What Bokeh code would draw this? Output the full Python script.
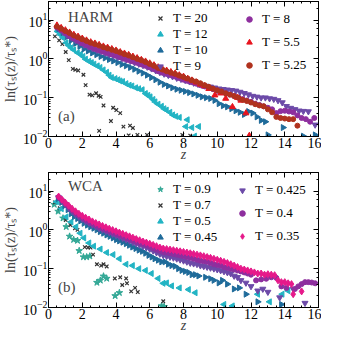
import math
from bokeh.plotting import figure
from bokeh.models import (Range1d, LogAxis, LinearAxis, Legend, LegendItem, Label,
                          LogTicker, SingleIntervalTicker, CustomJSTickFormatter)
from bokeh.layouts import column
from bokeh.embed import file_html
from bokeh.resources import INLINE

FONT = "Liberation Serif"

# ---------------- Panel (a): HARM ----------------
z_a20 = [0.38, 0.63, 0.82, 1.02, 1.2, 1.44, 1.59, 1.76, 2.07, 2.2, 2.43, 2.59, 2.82, 2.97, 3.09, 3.26,
         3.0, 3.7, 3.83, 4.02, 4.25, 4.44, 4.75, 4.83, 5.0, 5.27, 5.84, 7.93, 8.4]
v_a20 = [3.8, 3.0, 2.4, 1.5, 0.93, 0.55, 0.52, 0.5, 0.39, 0.21, 0.12, 0.115, 0.13, 0.112, 0.105, 0.063,
         0.014, 0.025, 0.055, 0.048, 0.04, 0.018, 0.0107, 0.019, 0.0166, 0.011, 0.011, 0.011, 0.0105]

z_a12 = [0.53, 0.7, 0.86, 1.05, 1.2, 1.34, 1.5, 1.72, 1.9, 2.05, 2.2, 2.4, 2.55, 2.7, 2.9, 3.06, 3.25,
         3.45, 3.6, 3.74, 3.95, 4.12, 4.25, 4.4, 4.6, 4.79, 4.95, 5.17, 5.35, 5.56, 5.75, 5.9, 6.03, 6.2,
         6.32, 6.5, 6.7, 6.85, 6.99, 7.2, 7.37, 7.55, 7.76, 8.14, 8.23, 8.5, 8.66, 8.9]
v_a12 = [5.1, 4.2, 3.5, 2.6, 2.2, 1.93, 1.7, 1.44, 1.31, 1.15, 0.98, 0.87, 0.8, 0.73, 0.66, 0.6, 0.52,
         0.45, 0.38, 0.33, 0.31, 0.29, 0.27, 0.26, 0.23, 0.21, 0.2, 0.18, 0.17, 0.16, 0.128, 0.115, 0.105,
         0.09, 0.078, 0.068, 0.06, 0.052, 0.048, 0.042, 0.036, 0.033, 0.031, 0.018, 0.027, 0.017, 0.0102, 0.018]

z_a10 = [0.6, 0.85, 1.1, 1.35, 1.6, 1.85, 2.1, 2.35, 2.6, 2.85, 3.1, 3.35, 3.6, 3.85, 4.1, 4.35, 4.6,
         4.85, 5.1, 5.35, 5.6, 5.85, 6.1, 6.35, 6.6, 6.85, 7.1, 7.35, 7.6, 7.85, 8.1, 8.35, 8.6, 8.85,
         9.1, 9.35, 9.6, 9.85, 10.1, 10.35, 10.6, 10.85, 11.1, 11.35, 11.6, 11.85, 12.1, 12.35, 12.6,
         12.85, 13.0, 13.9, 15.1, 15.8]
v_a10 = [6.0, 4.7, 3.7, 3.0, 2.5, 2.1, 1.8, 1.6, 1.42, 1.28, 1.15, 1.05, 0.96, 0.88, 0.8, 0.72, 0.66,
         0.6, 0.54, 0.48, 0.43, 0.38, 0.33, 0.29, 0.25, 0.22, 0.2, 0.18, 0.165, 0.155, 0.145, 0.135,
         0.125, 0.115, 0.105, 0.1, 0.095, 0.085, 0.07, 0.062, 0.058, 0.052, 0.046, 0.042, 0.037, 0.044,
         0.04, 0.032, 0.026, 0.024, 0.011, 0.017, 0.0102, 0.011]

z_a9 = [0.6, 0.85, 1.1, 1.35, 1.6, 1.85, 2.1, 2.35, 2.6, 2.85, 3.1, 3.35, 3.6, 3.85, 4.1, 4.35, 4.6,
        4.85, 5.1, 5.35, 5.6, 5.85, 6.1, 6.35, 6.6, 6.85, 7.1, 7.35, 7.6, 7.85, 8.1, 8.35, 8.6, 8.85,
        9.1, 9.35, 9.6, 9.85, 10.1, 10.35, 10.6, 10.85, 11.1, 11.35, 11.6, 11.85, 12.1, 12.35, 12.6,
        12.85, 13.1, 13.35, 13.6, 13.85, 14.1, 14.35, 14.6, 14.85, 15.1, 15.4, 15.8]
v_a9 = [6.2, 5.0, 4.1, 3.5, 3.0, 2.6, 2.3, 2.05, 1.85, 1.68, 1.55, 1.42, 1.3, 1.2, 1.1, 1.02, 0.95,
        0.88, 0.8, 0.74, 0.68, 0.62, 0.56, 0.5, 0.45, 0.41, 0.38, 0.35, 0.32, 0.3, 0.28, 0.26, 0.24,
        0.225, 0.21, 0.2, 0.19, 0.18, 0.17, 0.165, 0.16, 0.155, 0.15, 0.14, 0.13, 0.12, 0.11, 0.105,
        0.1, 0.1, 0.095, 0.092, 0.085, 0.075, 0.06, 0.054, 0.05, 0.046, 0.045, 0.044, 0.02]

z_a8 = [0.5, 0.75, 1.0, 1.25, 1.5, 1.75, 2.0, 2.25, 2.5, 2.75, 3.0, 3.25, 3.5, 3.75, 4.0, 4.25, 4.5,
        4.75, 5.0, 5.25, 5.5, 5.75, 6.0, 6.25, 6.5, 6.75, 7.0, 7.25, 7.5, 7.75, 8.0, 8.25, 8.5, 8.75,
        9.0, 9.25, 9.5, 9.75, 10.0, 10.25, 10.5, 10.75, 11.0, 11.25, 11.5, 11.75, 12.0, 12.25, 12.5,
        12.75, 13.0, 13.25, 13.5, 13.75, 14.0, 14.25, 14.5, 14.75, 15.0, 15.25, 15.5, 15.75]
v_a8 = [6.4, 5.4, 4.5, 3.8, 3.3, 2.9, 2.5, 2.25, 2.0, 1.8, 1.65, 1.52, 1.4, 1.3, 1.2, 1.1, 1.0,
        0.93, 0.86, 0.79, 0.72, 0.66, 0.6, 0.54, 0.48, 0.44, 0.41, 0.38, 0.35, 0.32, 0.29, 0.27, 0.25,
        0.23, 0.21, 0.195, 0.18, 0.165, 0.15, 0.14, 0.13, 0.12, 0.11, 0.1, 0.092, 0.085, 0.078, 0.07,
        0.065, 0.06, 0.055, 0.05, 0.04, 0.045, 0.046, 0.044, 0.042, 0.035, 0.03, 0.028, 0.024, 0.03]

z_a55 = [0.5, 0.75, 1.0, 1.25, 1.5, 1.75, 2.0, 2.25, 2.5, 2.75, 3.0, 3.25, 3.5, 3.75, 4.0, 4.25, 4.5,
         4.75, 5.0, 5.25, 5.5, 5.75, 6.0, 6.25, 6.5, 6.75, 7.0, 7.25, 7.5, 7.75, 8.0, 8.25, 8.5, 8.75,
         9.0, 9.25, 9.5, 9.86, 10.2, 10.5, 10.9, 11.2, 11.4, 11.7, 11.9]
v_a55 = [7.3, 6.3, 5.5, 4.8, 4.2, 3.75, 3.35, 3.0, 2.7, 2.5, 2.3, 2.1, 1.95, 1.8, 1.65, 1.5, 1.38,
         1.27, 1.15, 1.05, 0.95, 0.86, 0.77, 0.69, 0.61, 0.55, 0.5, 0.46, 0.42, 0.38, 0.35, 0.31, 0.28,
         0.25, 0.22, 0.2, 0.17, 0.116, 0.13, 0.095, 0.058, 0.1, 0.085, 0.04, 0.0105]

z_a525 = [0.5, 0.75, 1.0, 1.25, 1.5, 1.75, 2.0, 2.25, 2.5, 2.75, 3.0, 3.25, 3.5, 3.75, 4.0, 4.25, 4.5,
          4.75, 5.0, 5.25, 5.5, 5.75, 6.0, 6.25, 6.5, 6.75, 7.0, 7.25, 7.5, 7.75, 8.0, 8.25, 8.5, 8.75,
          9.0, 9.25, 9.5, 9.75, 10.0, 10.25, 10.5, 10.75, 11.0, 11.25, 11.5, 11.75, 12.0, 12.25, 12.5,
          12.75, 13.0, 13.25, 13.5, 13.75, 14.0, 14.25, 14.5, 14.75]
v_a525 = [6.8, 6.0, 5.2, 4.6, 4.0, 3.6, 3.2, 2.9, 2.6, 2.4, 2.2, 2.0, 1.85, 1.72, 1.6, 1.45, 1.32,
          1.22, 1.1, 1.0, 0.92, 0.83, 0.74, 0.66, 0.58, 0.53, 0.48, 0.44, 0.41, 0.37, 0.34, 0.31, 0.28,
          0.26, 0.235, 0.21, 0.19, 0.17, 0.155, 0.145, 0.13, 0.12, 0.11, 0.1, 0.088, 0.082, 0.075,
          0.068, 0.063, 0.06, 0.05, 0.042, 0.032, 0.03, 0.029, 0.028, 0.028, 0.019]

# ---------------- Panel (b): WCA ----------------
z_b09 = [0.34, 0.57, 0.86, 1.05, 1.25, 1.49, 1.72, 1.82, 2.07, 2.26, 2.45, 2.87, 3.07, 3.26, 3.45,
         3.95, 4.2, 6.7, 6.85]
v_b09 = [4.5, 3.0, 2.0, 1.2, 0.68, 0.56, 0.53, 0.29, 0.2, 0.2, 0.21, 0.044, 0.05, 0.064, 0.056,
         0.02, 0.024, 0.011, 0.0105]

z_b07 = [0.38, 0.67, 1.02, 1.3, 1.57, 1.72, 2.15, 2.34, 2.49, 2.64, 2.87, 3.12, 3.26, 3.45, 3.93,
         4.25, 4.37, 4.6, 4.65, 4.9, 5.13, 5.29, 6.8]
v_b07 = [5.1, 3.6, 1.78, 1.33, 1.1, 1.0, 0.36, 0.35, 0.35, 0.23, 0.13, 0.12, 0.13, 0.114, 0.056,
         0.06, 0.038, 0.056, 0.042, 0.026, 0.032, 0.025, 0.0145]

z_b05 = [0.48, 0.77, 1.05, 1.34, 1.63, 1.88, 2.1, 2.4, 2.68, 3.07, 3.45, 3.83, 4.2, 4.6, 4.98, 5.36,
         5.75, 6.1, 6.5, 6.8, 7.0, 7.3, 7.76, 8.3, 8.7, 10.4, 10.9, 12.4, 13.1, 13.85, 14.2]
v_b05 = [5.3, 3.5, 2.15, 1.6, 1.2, 0.82, 0.62, 0.46, 0.38, 0.32, 0.26, 0.23, 0.18, 0.13, 0.12, 0.1,
         0.09, 0.075, 0.056, 0.042, 0.043, 0.036, 0.032, 0.029, 0.024, 0.012, 0.011, 0.022, 0.014,
         0.022, 0.027]

z_b045 = [0.57, 0.77, 0.96, 1.15, 1.34, 1.53, 1.72, 1.9, 2.1, 2.3, 2.49, 2.68, 2.87, 3.06, 3.26,
          3.45, 3.64, 3.83, 4.02, 4.2, 4.4, 4.6, 4.79, 4.98, 5.17, 5.36, 5.56, 5.75, 5.94, 6.13, 6.3,
          6.5, 6.7, 6.9, 7.1, 7.3, 7.5, 7.7, 7.9, 8.1, 8.3, 8.5, 8.7, 8.9, 9.3, 9.6, 9.8, 10.1, 10.3,
          10.6, 11.0, 11.3, 11.7, 12.4, 13.8]
v_b045 = [6.4, 5.1, 4.2, 3.3, 2.6, 2.2, 1.95, 1.7, 1.47, 1.32, 1.2, 1.1, 1.0, 0.9, 0.82, 0.74, 0.68,
          0.62, 0.56, 0.52, 0.48, 0.44, 0.4, 0.36, 0.33, 0.3, 0.28, 0.25, 0.22, 0.2, 0.18, 0.165,
          0.15, 0.15, 0.13, 0.12, 0.115, 0.1, 0.09, 0.085, 0.08, 0.07, 0.07, 0.065, 0.06, 0.055, 0.05,
          0.043, 0.05, 0.04, 0.03, 0.032, 0.022, 0.014, 0.012]

z_b0425 = [0.6, 0.8, 1.0, 1.2, 1.4, 1.6, 1.8, 2.0, 2.2, 2.4, 2.6, 2.8, 3.0, 3.2, 3.4, 3.6, 3.8, 4.0,
           4.2, 4.4, 4.6, 4.8, 5.0, 5.2, 5.4, 5.6, 5.8, 6.0, 6.2, 6.4, 6.6, 6.8, 7.0, 7.2, 7.4, 7.6,
           7.8, 8.0, 8.2, 8.4, 8.6, 8.8, 9.0, 9.2, 9.4, 9.6, 9.8, 10.0, 10.2, 10.4, 10.6, 10.8, 11.0,
           11.2, 11.4, 11.7, 12.0, 12.4, 12.7, 13.0, 13.7, 14.5, 15.2]
v_b0425 = [6.8, 5.5, 4.5, 3.6, 3.0, 2.5, 2.15, 1.9, 1.65, 1.5, 1.35, 1.22, 1.1, 1.0, 0.92, 0.85,
           0.78, 0.72, 0.66, 0.61, 0.56, 0.52, 0.48, 0.44, 0.41, 0.38, 0.35, 0.32, 0.29, 0.26, 0.24,
           0.22, 0.21, 0.2, 0.19, 0.18, 0.17, 0.16, 0.15, 0.14, 0.135, 0.13, 0.12, 0.115, 0.11, 0.105,
           0.1, 0.095, 0.09, 0.085, 0.08, 0.075, 0.065, 0.06, 0.05, 0.043, 0.035, 0.027, 0.03, 0.025,
           0.018, 0.03, 0.013]

z_b04 = [0.6, 0.8, 1.0, 1.2, 1.4, 1.6, 1.8, 2.0, 2.2, 2.4, 2.6, 2.8, 3.0, 3.2, 3.4, 3.6, 3.8, 4.0,
         4.2, 4.4, 4.6, 4.8, 5.0, 5.2, 5.4, 5.6, 5.8, 6.0, 6.2, 6.4, 6.6, 6.8, 7.0, 7.2, 7.4, 7.6, 7.8,
         8.0, 8.2, 8.4, 8.6, 8.8, 9.0, 9.2, 9.4, 9.6, 9.8, 10.0, 10.2, 10.4, 10.6, 10.8, 11.0, 11.2,
         11.4, 11.6, 11.8, 12.0, 12.3, 12.6, 12.9, 13.2, 13.5, 13.8, 14.1, 14.6, 14.8, 15.0, 15.2,
         15.4, 15.6, 15.8]
v_b04 = [7.0, 5.8, 4.7, 3.9, 3.2, 2.7, 2.35, 2.05, 1.8, 1.6, 1.45, 1.3, 1.18, 1.08, 1.0, 0.92, 0.85,
         0.78, 0.72, 0.67, 0.62, 0.57, 0.53, 0.49, 0.46, 0.43, 0.4, 0.37, 0.34, 0.31, 0.29, 0.27, 0.26,
         0.25, 0.24, 0.23, 0.22, 0.21, 0.2, 0.19, 0.18, 0.17, 0.16, 0.155, 0.15, 0.14, 0.13, 0.125,
         0.12, 0.11, 0.105, 0.1, 0.095, 0.09, 0.085, 0.08, 0.075, 0.07, 0.05, 0.053, 0.055, 0.06,
         0.058, 0.035, 0.032, 0.03, 0.035, 0.04, 0.045, 0.045, 0.044, 0.042]

z_b035 = [0.6, 0.8, 1.0, 1.2, 1.4, 1.6, 1.8, 2.0, 2.2, 2.4, 2.6, 2.8, 3.0, 3.2, 3.4, 3.6, 3.8, 4.0,
          4.2, 4.4, 4.6, 4.8, 5.0, 5.2, 5.4, 5.6, 5.8, 6.0, 6.2, 6.4, 6.6, 6.8, 7.0, 7.2, 7.4, 7.6,
          7.8, 8.0, 8.2, 8.4, 8.6, 8.8, 9.0, 9.2, 9.4, 9.6, 9.8, 10.0, 10.2, 10.4, 10.6, 10.8, 11.0,
          11.2, 11.4, 11.6, 11.8, 12.0, 12.2, 12.4, 12.6, 12.8, 13.0, 13.2, 13.4, 13.6, 13.8, 14.0,
          14.2, 14.4, 14.5, 15.0]
v_b035 = [7.2, 6.0, 5.0, 4.2, 3.5, 3.0, 2.6, 2.3, 2.05, 1.85, 1.65, 1.5, 1.38, 1.26, 1.16, 1.07,
          0.99, 0.92, 0.85, 0.79, 0.73, 0.68, 0.63, 0.58, 0.54, 0.5, 0.47, 0.44, 0.41, 0.38, 0.35,
          0.33, 0.32, 0.31, 0.3, 0.29, 0.28, 0.27, 0.26, 0.25, 0.24, 0.23, 0.22, 0.21, 0.2, 0.19,
          0.18, 0.17, 0.16, 0.15, 0.14, 0.13, 0.12, 0.11, 0.1, 0.095, 0.09, 0.085, 0.08, 0.075,
          0.075, 0.07, 0.072, 0.07, 0.068, 0.05, 0.045, 0.045, 0.042, 0.04, 0.022, 0.026]

C_BLACK = "#333333"
C_CYAN = "#22b4c4"
C_BLUE = "#1f6b9a"
C_VIOLET = "#6c4aa8"
C_PURPLE = "#8e2f9e"
C_RED = "#e8141e"
C_DRED = "#b0321e"
C_GREEN = "#33a896"
C_MAGENTA = "#e6198a"


def style_axis(ax, labels=True):
    ax.axis_line_color = "black"
    ax.major_tick_in = 5
    ax.major_tick_out = 0
    ax.minor_tick_in = 2
    ax.minor_tick_out = 0
    ax.major_tick_line_color = "black"
    ax.minor_tick_line_color = "black"
    ax.major_label_text_font = FONT
    ax.major_label_text_color = "black"
    if labels:
        ax.major_label_text_font_size = "14px"
        ax.major_label_standoff = 1
    else:
        ax.formatter = CustomJSTickFormatter(code="return ''")
        ax.major_label_text_font_size = "1px"
        ax.major_label_standoff = 0


def make_panel(height, top):
    p = figure(width=321, height=height, y_axis_type="log",
               x_range=Range1d(0, 16), y_range=Range1d(0.01, 30),
               output_backend="svg", toolbar_location=None,
               min_border_left=42, min_border_right=3, min_border_top=top,
               min_border_bottom=0)
    p.xgrid.visible = False
    p.ygrid.visible = False
    p.outline_line_color = "black"
    p.xaxis.ticker = SingleIntervalTicker(interval=2, num_minor_ticks=4)
    style_axis(p.xaxis[0])
    style_axis(p.yaxis[0])
    p.xaxis.axis_label = "z"
    p.xaxis.axis_label_text_font = FONT
    p.xaxis.axis_label_text_font_style = "italic"
    p.xaxis.axis_label_text_font_size = "14px"
    p.xaxis.axis_label_standoff = -4
    p.yaxis.axis_label = "ln(τₛ(z)/τₛ*)"
    p.yaxis.axis_label_text_font = FONT
    p.yaxis.axis_label_text_font_style = "normal"
    p.yaxis.axis_label_text_font_size = "14px"
    p.yaxis.axis_label_standoff = 2
    top_ax = LinearAxis(ticker=SingleIntervalTicker(interval=2, num_minor_ticks=4))
    style_axis(top_ax, False)
    p.add_layout(top_ax, "above")
    right_ax = LogAxis(ticker=LogTicker())
    style_axis(right_ax, False)
    p.add_layout(right_ax, "right")
    return p


def tri(p, z, v, color, angle, size=6):
    return p.scatter(z, v, marker="triangle", angle=angle, size=size,
                     fill_color=color, line_color=color)


def cross(p, z, v):
    return p.scatter(z, v, marker="x", size=5, line_color=C_BLACK, line_width=1.2)


# Panel a
pa = make_panel(164, 1)
ra20 = cross(pa, z_a20, v_a20)
ra12 = tri(pa, z_a12, v_a12, C_CYAN, math.pi / 2)
ra10 = tri(pa, z_a10, v_a10, C_BLUE, -math.pi / 2)
ra9 = pa.scatter(z_a9, v_a9, marker="inverted_triangle", size=6, fill_color=C_VIOLET, line_color=C_VIOLET)
ra8 = pa.scatter(z_a8, v_a8, marker="circle", size=5, fill_color=C_PURPLE, line_color=C_PURPLE)
ra55 = tri(pa, z_a55, v_a55, C_RED, 0)
ra525 = pa.scatter(z_a525, v_a525, marker="circle", size=5, fill_color=C_DRED, line_color=C_DRED)

# Panel b
pb = make_panel(171, 8)
rb09 = pb.scatter(z_b09, v_b09, marker="star", size=7, fill_color=C_GREEN, line_color=C_GREEN)
rb07 = cross(pb, z_b07, v_b07)
rb05 = tri(pb, z_b05, v_b05, C_CYAN, math.pi / 2)
rb045 = tri(pb, z_b045, v_b045, C_BLUE, -math.pi / 2)
rb0425 = pb.scatter(z_b0425, v_b0425, marker="inverted_triangle", size=6, fill_color=C_VIOLET, line_color=C_VIOLET)
rb04 = pb.scatter(z_b04, v_b04, marker="circle", size=5, fill_color=C_PURPLE, line_color=C_PURPLE)
rb035 = pb.scatter(z_b035, v_b035, marker="diamond", size=7, fill_color=C_MAGENTA, line_color=C_MAGENTA)

# legends: positioned by their lower-left corner above the frame bottom
FH = 128
for p, left_items, right_items, xr in [
    (pa, [("T = 20", ra20), ("T = 12", ra12), ("T = 10", ra10), ("T = 9", ra9)],
         [("T = 8", ra8), ("T = 5.5", ra55), ("T = 5.25", ra525)], 194),
    (pb, [("T = 0.9", rb09), ("T = 0.7", rb07), ("T = 0.5", rb05), ("T = 0.45", rb045)],
         [("T = 0.425", rb0425), ("T = 0.4", rb04), ("T = 0.35", rb035)], 187)]:
    for items, x, spacing, h in [(left_items, 105, 0, 62), (right_items, xr, 7, 61)]:
        leg = Legend(items=[LegendItem(label=l, renderers=[r]) for l, r in items],
                     location=(x, FH - 4 - h), background_fill_alpha=0,
                     border_line_color=None, padding=1, margin=0, spacing=spacing,
                     glyph_width=14, glyph_height=14, label_standoff=6,
                     label_text_font=FONT, label_text_font_size="13px",
                     label_text_color="black")
        p.add_layout(leg)

pa.add_layout(Label(x=1.15, y=12.3, text="HARM", text_font=FONT, text_font_size="15px",
                    text_baseline="middle"))
pa.add_layout(Label(x=0.57, y=0.033, text="(a)", text_font=FONT, text_font_size="15px",
                    text_baseline="middle"))
pb.add_layout(Label(x=1.15, y=13.3, text="WCA", text_font=FONT, text_font_size="15px",
                    text_baseline="middle"))
pb.add_layout(Label(x=0.57, y=0.033, text="(b)", text_font=FONT, text_font_size="15px",
                    text_baseline="middle"))

layout = column(pa, pb)
open("out.html", "w").write(file_html(layout, INLINE))
